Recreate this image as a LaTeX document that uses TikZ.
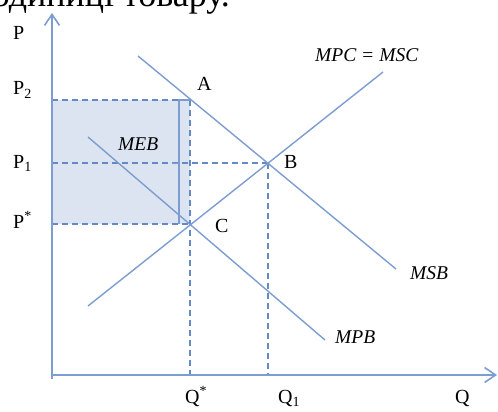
\documentclass[tikz,border=0pt]{standalone}
\usepackage{fontspec}
\setmainfont{Liberation Serif}
\usetikzlibrary{arrows.meta}
\definecolor{curve}{HTML}{7C9DD0}
\definecolor{dashcol}{HTML}{6489C4}
\definecolor{mebfill}{HTML}{DCE4F1}
\tikzset{
  curveline/.style={draw=curve, line width=1.4pt},
  axisline/.style={draw=curve, line width=1.8pt, -{Straight Barb[length=11pt,width=15pt,line width=1.6pt]}},
  guide/.style={draw=dashcol, line width=1.7pt, dash pattern=on 6pt off 4pt},
  lbl/.style={font=\fontsize{20}{22}\selectfont, inner sep=0pt, anchor=base west, text=black},
  ilbl/.style={lbl, font=\fontsize{19.5}{22}\selectfont\itshape},
}
\begin{document}
\begin{tikzpicture}[x=1pt,y=-1pt]
\useasboundingbox (0,0) rectangle (498,412);
% cut-off text line at top
\begin{scope}
\clip (0,0) rectangle (498,412);
\node[font=\fontsize{36}{40}\selectfont, inner sep=0pt, anchor=base east] (toptext) at (230,7) {одиниці товару.};
\end{scope}
% coordinates
\coordinate (O) at (52,375);
\coordinate (ytop) at (52,13);
\coordinate (ybot) at (52,379);
\coordinate (xend) at (497,375);
\coordinate (A) at (190,100);
\coordinate (B) at (268,163);
\coordinate (C) at (190,224);
\coordinate (P2) at (52,100);
\coordinate (P1) at (52,163);
\coordinate (Ps) at (52,224);
\coordinate (Qs) at (190,375);
\coordinate (Q1) at (268,375);
\coordinate (msbS) at (138,56);
\coordinate (msbE) at (396,269);
\coordinate (mpcS) at (88,306);
\coordinate (mpcE) at (383,72);
\coordinate (mpbS) at (88,137);
\coordinate (mpbE) at (325,340);
\coordinate (brT) at (179,100);
\coordinate (brB) at (179,224);
\coordinate (tkL) at (172,163);
\coordinate (tkR) at (179,163);
% shaded area
\fill[mebfill] (P2) rectangle (C);
% guides
\draw[guide] (P2) -- (A);
\draw[guide] (P1) -- (B);
\draw[guide] (Ps) -- (C);
\draw[guide] (A) -- (Qs);
\draw[guide] (B) -- (Q1);
% bracket
\draw[curveline, line width=1.5pt] (A) -- (brT) -- (brB);
\draw[curveline, line width=1.2pt] (tkL) to[out=-30,in=180] (tkR);
% curves
\draw[curveline] (msbS) -- (msbE);
\draw[curveline] (mpcS) -- (mpcE);
\draw[curveline] (mpbS) -- (mpbE);
% axes
\draw[axisline] (ybot) -- (ytop);
\draw[axisline] (O) -- (xend);
% labels
\node[lbl] (lP) at (13,40) {P};
\node[lbl] (lP2) at (13,95) {P\textsubscript{2}};
\node[lbl] (lP1) at (13,168) {P\textsubscript{1}};
\node[lbl] (lPs) at (13,228) {P\textsuperscript{*}};
\node[lbl] (lQs) at (185,403) {Q\textsuperscript{*}};
\node[lbl] (lQ1) at (278,403) {Q\textsubscript{1}};
\node[lbl] (lQ) at (455,403) {Q};
\node[lbl] (lA) at (197,91) {A};
\node[lbl] (lB) at (284,168) {B};
\node[lbl] (lC) at (215,232) {C};
\node[ilbl] (lMEB) at (118,150) {MEB};
\node[ilbl] (lMSB) at (410,279) {MSB};
\node[ilbl] (lMPB) at (335,343) {MPB};
\node[ilbl] (lMPC) at (315,62) {MPC = MSC};
\end{tikzpicture}
\end{document}
